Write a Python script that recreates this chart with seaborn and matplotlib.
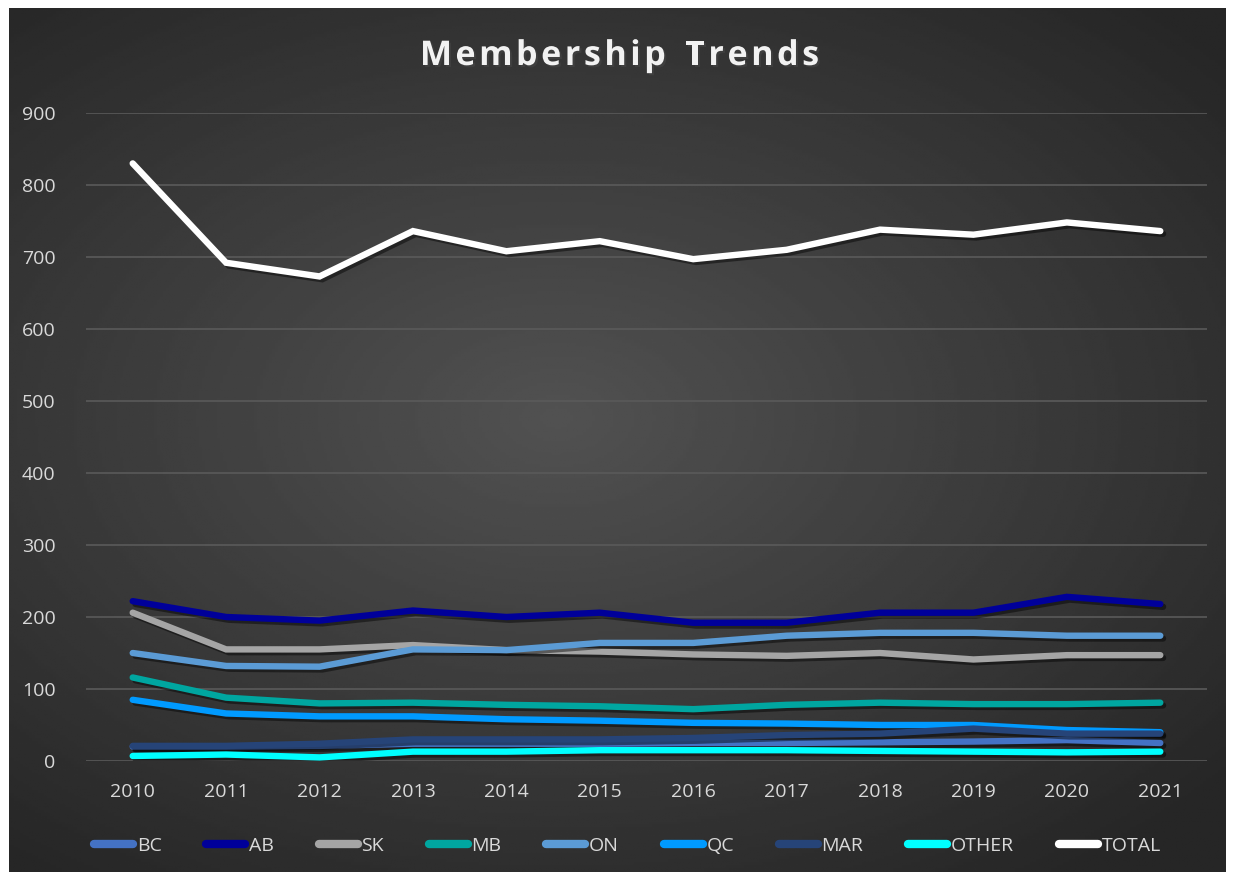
import numpy as np
import pandas as pd
import matplotlib
matplotlib.use("Agg")
import matplotlib.pyplot as plt
import matplotlib.patheffects as pe
from matplotlib.lines import Line2D
import seaborn as sns

years = [2010, 2011, 2012, 2013, 2014, 2015, 2016, 2017, 2018, 2019, 2020, 2021]

bc = [20, 20, 21, 24, 24, 24, 25, 25, 26, 27, 29, 25]
ab = [222, 200, 195, 209, 200, 206, 192, 192, 206, 206, 228, 218]
sk = [206, 155, 155, 161, 154, 152, 148, 146, 150, 141, 147, 147]
mb = [116, 88, 80, 81, 78, 76, 72, 78, 81, 79, 79, 81]
on = [150, 132, 131, 155, 154, 164, 164, 174, 178, 178, 174, 174]
qc = [85, 66, 62, 62, 58, 56, 53, 52, 50, 50, 43, 40]
mar = [21, 21, 24, 30, 30, 30, 32, 36, 38, 45, 38, 38]
other = [7, 9, 5, 13, 13, 15, 15, 15, 14, 13, 12, 13]
total = [830, 692, 673, 736, 708, 722, 697, 710, 738, 731, 748, 736]

series = ["BC", "AB", "SK", "MB", "ON", "QC", "MAR", "OTHER", "TOTAL"]
values = [bc, ab, sk, mb, on, qc, mar, other, total]
colors = ["#4472C4", "#00009A", "#A5A5A5", "#00A6A0", "#5B9BD5",
          "#009AFF", "#264478", "#00FFFF", "#FFFFFF"]
title = "Membership Trends"

df = pd.DataFrame({
    "year": [str(y) for _ in series for y in years],
    "members": [v for vals in values for v in vals],
    "series": [s for s in series for _ in years],
})

sns.set_theme(style="dark")
plt.rcParams["font.family"] = ["Open Sans", "DejaVu Sans"]
txt = "#D9D9D9"

W, H = 1235, 880
fig = plt.figure(figsize=(W / 100, H / 100), dpi=100)
fig.patch.set_facecolor("white")

# dark radial gradient panel
bg = fig.add_axes([9 / W, 8 / H, 1 - 18 / W, 1 - 16 / H], zorder=0)
gx, gy = np.meshgrid(np.linspace(-1, 1, 400), np.linspace(-1, 1, 300))
r = np.sqrt(((gx + 0.1) * 0.9) ** 2 + (gy - 0.05) ** 2)
shade = 0.32 - 0.17 * np.clip(r / 1.3, 0, 1)
bg.imshow(shade, cmap="gray", vmin=0, vmax=1, aspect="auto",
          extent=[0, 1, 0, 1], origin="lower")
bg.set_axis_off()

ax = fig.add_axes([86 / W, 1 - 761 / H, (1207 - 86) / W, (761 - 113) / H],
                  zorder=1)
ax.patch.set_alpha(0)

sns.lineplot(data=df, x="year", y="members", hue="series", hue_order=series,
             palette=colors, linewidth=4.6, sort=False, legend=False, ax=ax)

for line in ax.lines:
    line.set_solid_capstyle("round")
    line.set_solid_joinstyle("miter")
    line.set_path_effects([pe.SimpleLineShadow(offset=(2, -2), alpha=0.45,
                                               shadow_color="black"),
                           pe.Normal()])

ax.set_xlim(-0.5, len(years) - 0.5)
ax.set_ylim(0, 900)
ax.set_yticks(range(0, 901, 100))
ax.grid(axis="y", color="#5A5A5A", linewidth=1.2)
ax.grid(axis="x", visible=False)
for s in ax.spines.values():
    s.set_visible(False)
ax.tick_params(colors=txt, labelsize=14, length=0)
ax.tick_params(axis="y", pad=22)
ax.tick_params(axis="x", pad=16)
ax.set_xlabel("")
ax.set_ylabel("")

# title with wide letter spacing, placed char by char
renderer = fig.canvas.get_renderer()
tprops = dict(color="#F2F2F2", fontsize=24.5, fontweight="bold", va="center", ha="left",
              path_effects=[pe.withSimplePatchShadow(offset=(1.5, -1.5), alpha=0.5)])
spacing = 3.6
widths = []
for ch in title:
    t = fig.text(0, 0, ch if ch != " " else "n", **tprops)
    widths.append(t.get_window_extent(renderer).width * (0.55 if ch == " " else 1))
    t.remove()
total_w = sum(widths) + spacing * (len(title) - 1)
x = (W - total_w) / 2 + 2
for ch, w in zip(title, widths):
    if ch != " ":
        fig.text(x / W, 1 - 56 / H, ch, **tprops)
    x += w + spacing

handles = [Line2D([0], [0], color=c, linewidth=6, solid_capstyle="round")
           for c in colors]
leg = fig.legend(handles, series, loc="center", bbox_to_anchor=(0.508, 1 - 846 / H),
                 ncol=9, frameon=False, fontsize=14, handlelength=2.0,
                 handletextpad=0.2, columnspacing=2.3)
for t in leg.get_texts():
    t.set_color(txt)

fig.savefig("out.png", dpi=100)
